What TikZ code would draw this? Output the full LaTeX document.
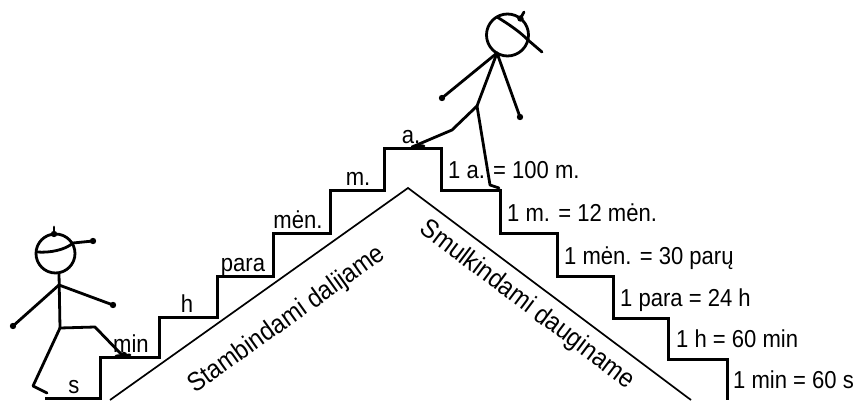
\documentclass[tikz,border=0pt]{standalone}
\usepackage{fontspec}
\setmainfont{Liberation Sans}
\newfontfamily\narrowface[FakeStretch=0.9]{Liberation Sans}
\usepackage{tikz}
\newcommand\stairfont{\narrowface\fontsize{24.5}{28}\selectfont}
\newcommand\slopefont{\narrowface\fontsize{26.5}{30}\selectfont}
\def\hand(#1){\fill (#1) circle (3.2);}
\tikzset{
	stair/.style={line width=3pt, line join=miter},
	roof/.style={line width=1.7pt},
	stick/.style={line width=2.8pt, line cap=round, line join=round},
	treadtext/.style={anchor=base, inner sep=0pt, font=\stairfont},
	risetext/.style={anchor=base west, inner sep=0pt, font=\stairfont},
	slopetext/.style={inner sep=0pt, font=\slopefont},
}

\begin{document}
\begin{tikzpicture}[x=1pt, y=1pt]
		\useasboundingbox (0, 0) rectangle (857, 400);
		%%%%% START %%%%%
		% stairs, up on the left and down on the right
		\draw[stair] (45, 2) -- (100, 2) -- (100, 43) -- (159, 43) -- (159, 83) -- (217, 83)
			-- (217, 124) -- (273, 124) -- (273, 167) -- (330, 167) -- (330, 210) -- (384, 210)
			-- (384, 252) -- (441, 252) -- (441, 210) -- (500, 210) -- (500, 167) -- (557, 167)
			-- (557, 124) -- (613, 124) -- (613, 82) -- (668, 82) -- (668, 41) -- (727, 41) -- (727, 0);
		
		% roof under the stairs
		\draw[roof] (110, 0) -- (408, 212) -- (691, 0);
		
		% units on the treads
		\node[treadtext] (tread-s) at (74, 7) {s};
		\node[treadtext] (tread-min) at (131, 48) {min};
		\node[treadtext] (tread-h) at (187, 88) {h};
		\node[treadtext] (tread-para) at (243, 129) {para};
		\node[treadtext] (tread-men) at (298, 172) {mėn.};
		\node[treadtext] (tread-m) at (358, 215) {m.};
		\node[treadtext] (tread-a) at (411, 257) {a.};
		
		% rules beside the risers
		\node[risetext] (rule-a) at (448, 222) {1 a. = 100 m.};
		\node[risetext] (rule-m) at (507, 179) {1 m. = 12 mėn.};
		\node[risetext] (rule-men) at (564, 136) {1 mėn. = 30 parų};
		\node[risetext] (rule-para) at (620, 94) {1 para = 24 h};
		\node[risetext] (rule-h) at (676, 53) {1 h = 60 min};
		\node[risetext] (rule-min) at (733, 12) {1 min = 60 s};
		
		% along the roof
		\node[slopetext, rotate=35.5] (coarse) at (287, 80) {Stambindami dalijame};
		\node[slopetext, rotate=-37] (fine) at (527, 95) {Smulkindami dauginame};
		
		% man climbing on the left
		\draw[stick] (55.5, 146.5) circle (19.5);
		\draw[stick] (54, 166) -- (54, 173);
		\hand(54, 166)
		\draw[stick] (37, 148) .. controls (50, 147) and (65, 150) .. (73, 157) -- (93, 159);
		\hand(93, 159)
		\draw[stick] (59, 127) -- (60, 72);
		\draw[stick] (13, 74) -- (59, 115) -- (113, 95);
		\hand(13, 74)
		\hand(113, 95)
		\draw[stick] (60, 72) -- (95, 73) -- (122, 45);
		\draw[stick] (116, 44) -- (130, 45);
		\hand(124, 45)
		\draw[stick] (60, 72) -- (33, 14) -- (47, 7);
		
		% man going down on the top
		\draw[stick] (507.5, 365) circle (21);
		\draw[stick] (520.4, 381.5) -- (524, 388);
		\hand(520.4, 381.5)
		\draw[stick] (497, 383) .. controls (510, 375) and (520, 368) .. (528, 360) -- (542, 348);
		\draw[stick] (442, 302) -- (497, 347) -- (520, 283);
		\hand(442, 302)
		\hand(520, 283)
		\draw[stick] (497, 347) -- (477, 294);
		\draw[stick] (477, 294) -- (452, 270) -- (412, 253) -- (424, 254);
		\draw[stick] (477, 294) -- (490, 215) -- (499, 212);
		%%%%% END %%%%%
	\end{tikzpicture}
\end{document}
